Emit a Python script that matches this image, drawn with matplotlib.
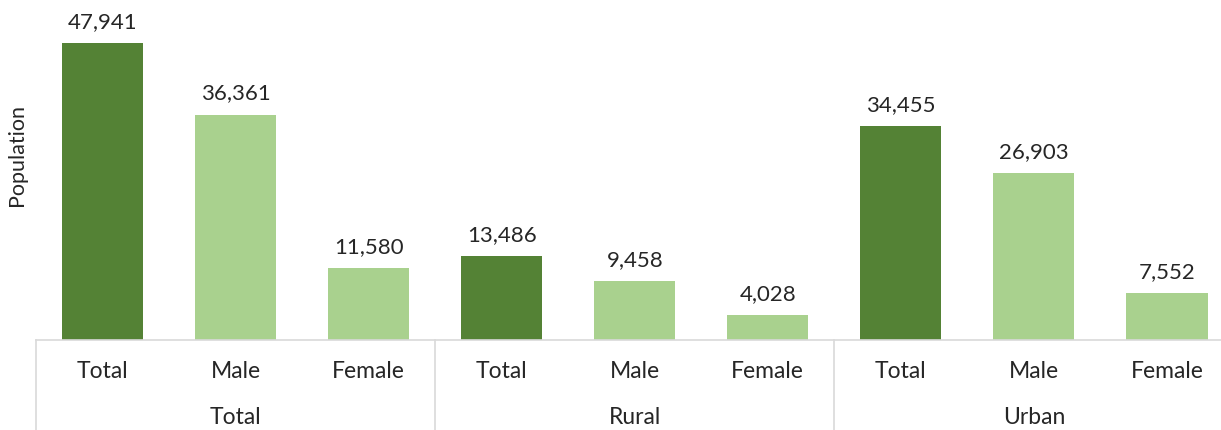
import matplotlib.pyplot as plt
from matplotlib.lines import Line2D

groups = ["Total", "Rural", "Urban"]
categories = ["Total", "Male", "Female"]
values = [47941, 36361, 11580, 13486, 9458, 4028, 34455, 26903, 7552]

dark = "#548235"
light = "#A9D18E"
grid = "#D9D9D9"

plt.rcParams['font.family'] = ['Lato', 'DejaVu Sans']

W, H = 1221, 430
fig = plt.figure(figsize=(W / 100, H / 100), dpi=100)

left, right = 36, 1233.5
base, top = 340, 30
ax = fig.add_axes([left / W, (H - base) / H, (right - left) / W, (base - top) / H])

n = len(values)
x = list(range(n))
colors = [dark if i % 3 == 0 else light for i in range(n)]
ax.bar(x, values, width=0.61, color=colors)

for xi, v in zip(x, values):
    ax.annotate(f"{v:,}", (xi, v), xytext=(0, 8), textcoords="offset points",
                ha="center", va="bottom", fontsize=16, color="#262626",
                annotation_clip=False)

ax.set_xlim(-0.5, n - 0.5)
ax.set_ylim(0, 50000)
for s in ax.spines.values():
    s.set_visible(False)
ax.set_xticks([])
ax.set_yticks([])

# category axis
fig.add_artist(Line2D([left / W, right / W], [(H - base) / H] * 2, color=grid, lw=1.2))
slot = (right - left) / n
for g in range(len(groups) + 1):
    xp = (left + g * slot * 3) / W
    fig.add_artist(Line2D([xp, xp], [0, (H - base) / H], color=grid, lw=1.2))

for i in range(n):
    xc = (left + (i + 0.5) * slot) / W
    fig.text(xc, (H - 372) / H, categories[i % 3], ha="center", va="center",
             fontsize=16.5, color="#262626")
for g, name in enumerate(groups):
    xc = (left + (g * 3 + 1.5) * slot) / W
    fig.text(xc, (H - 418) / H, name, ha="center", va="center",
             fontsize=16.5, color="#262626")

fig.text(17 / W, (H - 155) / H, "Population", rotation=90, ha="center",
         va="center", fontsize=15.5, color="#262626")

fig.savefig("out.png", dpi=100)
